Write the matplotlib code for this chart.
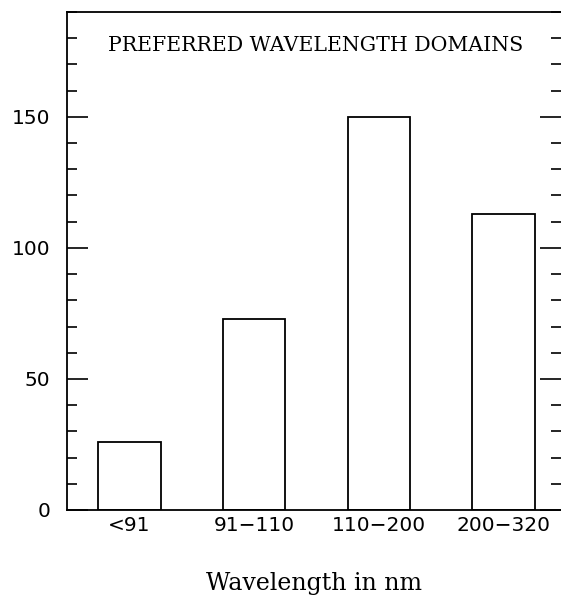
import numpy as np
import matplotlib.pyplot as plt
from matplotlib.ticker import MultipleLocator

# wavelength domains and counts
categories = ["<91", "91\u2212110", "110\u2212200", "200\u2212320"]
counts = [26, 73, 150, 113]

fig = plt.figure(figsize=(5.61, 5.96), dpi=100)
ax = fig.add_axes([0.1194, 0.1443, 0.8806, 0.8356])

x = np.arange(len(categories))
ax.bar(x, counts, width=0.5, color="white", edgecolor="black", linewidth=1.3)

ax.set_xlim(-0.5, 3.46)
ax.set_ylim(0, 190)

for s in ["left", "top", "bottom"]:
    ax.spines[s].set_linewidth(1.3)
ax.spines["right"].set_visible(False)

ax.yaxis.set_major_locator(MultipleLocator(50))
ax.yaxis.set_minor_locator(MultipleLocator(10))
ax.tick_params(axis="y", which="both", direction="in", left=True, right=True, width=1.2)
ax.tick_params(axis="y", which="major", length=15, labelsize=14.5, pad=12)
ax.tick_params(axis="y", which="minor", length=7)
ax.set_xticks(x)
ax.set_xticklabels(categories, fontsize=14.5)
ax.tick_params(axis="x", length=0, pad=4)

ax.text(0.503, 0.932, "PREFERRED WAVELENGTH DOMAINS", transform=ax.transAxes,
        ha="center", va="center", fontsize=14.8, family="DejaVu Serif")
ax.set_xlabel("Wavelength in nm", fontsize=17, family="DejaVu Serif", labelpad=27)

fig.savefig("out.png", dpi=100)
